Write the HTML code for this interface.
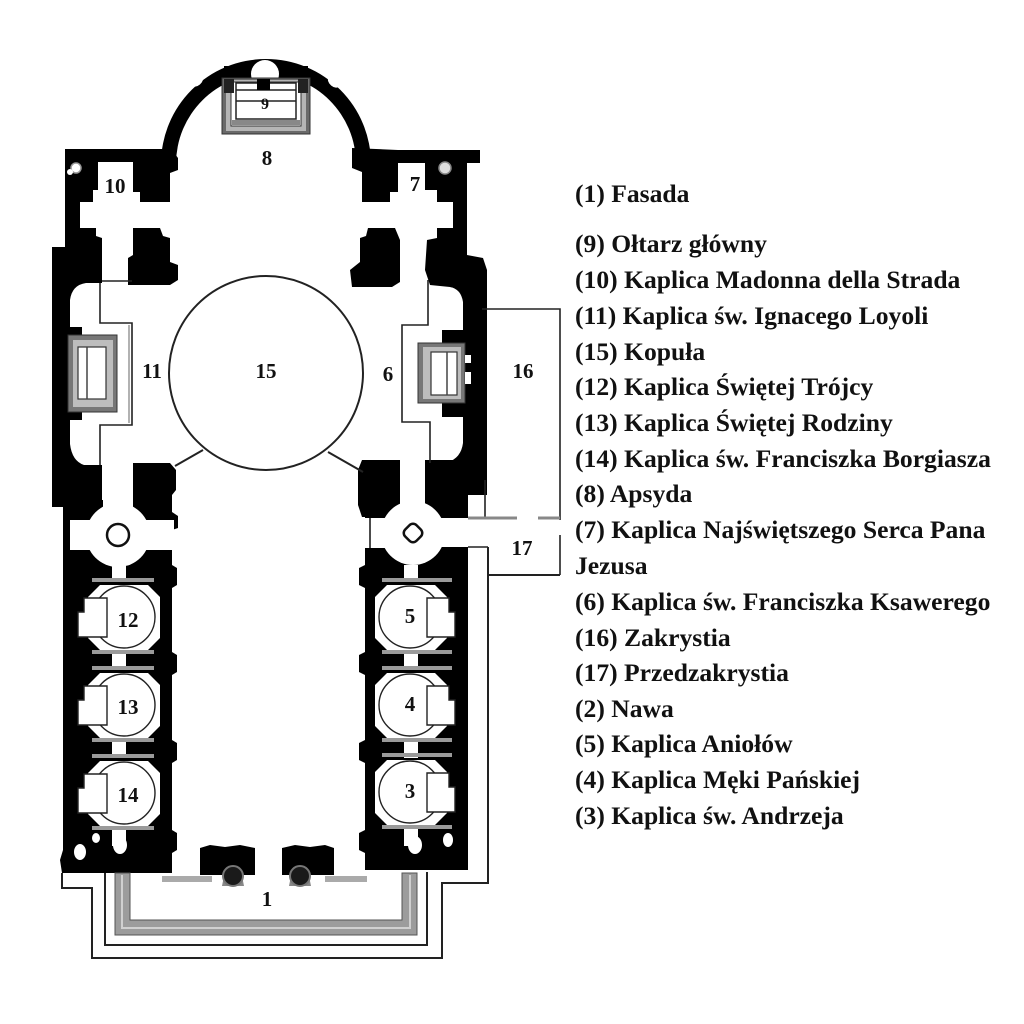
<!DOCTYPE html>
<html><head><meta charset="utf-8">
<style>
html,body{margin:0;padding:0;background:#fff;}
svg{display:block;}
.lg{font-family:"Liberation Serif","DejaVu Serif",serif;font-weight:bold;font-size:25.6px;fill:#111;}
.lb{font-family:"Liberation Serif","DejaVu Serif",serif;font-weight:bold;font-size:21px;fill:#111;text-anchor:middle;}
</style></head><body>
<svg width="1024" height="1024" viewBox="0 0 1024 1024" xmlns="http://www.w3.org/2000/svg">
<rect width="1024" height="1024" fill="#fff"/>

<!-- ===== BLACK WALL MASSES ===== -->
<g fill="#000">
  <!-- apse ring -->
  <path d="M161,164 A105,105 0 0 1 371,164 L356,164 A90,90 0 0 0 176,164 Z"/>
  <rect x="65" y="149" width="100" height="13"/>
  <rect x="368" y="150" width="112" height="13"/>
  <!-- top left block -->
  <polygon points="65,149 98,149 98,190 93,190 93,202 80,202 80,228 65,228"/>
  <!-- pier between 10 and apse -->
  <polygon points="133,150 172,150 178,158 178,170 170,173 170,202 140,202 140,192 133,192"/>
  <!-- pier between apse and 7 -->
  <polygon points="352,148 398,150 398,192 390,192 390,202 362,202 362,172 352,168"/>
  <!-- top right block -->
  <polygon points="425,150 480,150 480,163 467,163 467,228 453,228 453,202 437,202 437,190 425,190"/>

  <!-- y 228-288 -->
  <polygon points="65,228 96,228 96,236 102,238 102,283 70,283 70,300 52,300 52,247 65,247"/>
  <polygon points="133,228 160,228 163,236 170,238 170,262 178,265 178,280 170,285 128,285 128,258 133,255"/>
  <polygon points="368,228 395,228 400,240 400,282 392,287 352,287 350,270 360,262 360,238 366,236"/>
  <polygon points="437,228 467,228 467,255 483,258 487,270 487,290 463,292 460,288 430,285 425,270 427,240 437,238"/>

  <!-- left transept wall -->
  <rect x="52" y="247" width="18" height="260"/>
  <rect x="66" y="327" width="16" height="10"/>
  <rect x="66" y="410" width="16" height="10"/>
  <path d="M70,283 L86,283 Q72,285 70,300 Z"/>
  <path d="M70,465 L84,465 Q72,461 70,444 Z"/>
  <rect x="52" y="465" width="50" height="40"/>
  <!-- left pier to nave -->
  <polygon points="133,463 170,463 176,470 176,490 172,495 172,513 133,513"/>

  <!-- right transept wall -->
  <rect x="463" y="285" width="24" height="210"/>
  <rect x="442" y="330" width="45" height="20"/>
  <rect x="442" y="397" width="45" height="20"/>
  <path d="M463,287 L450,287 Q461,289 463,302 Z"/>
  <path d="M463,462 L448,462 Q461,458 463,443 Z"/>
  <polygon points="425,460 487,460 487,495 468,495 468,517 425,517"/>
  <polygon points="362,460 400,460 400,517 362,517 358,505 358,470"/>

  <!-- left nave column -->
  <polygon points="63,500 172,500 172,512 178,516 178,528 172,530 172,565 177,568 177,585 172,588 172,652 177,655 177,672 172,675 172,740 177,743 177,760 172,763 172,830 177,833 177,850 172,853 172,873 62,873 60,860 63,850"/>
  <!-- right nave column -->
  <polygon points="365,500 470,500 470,870 365,870 365,853 359,850 359,833 365,830 365,763 359,760 359,743 365,740 365,675 359,672 359,655 365,652 365,588 359,585 359,568 365,565"/>
  <!-- corridor lower block -->
  <rect x="438" y="547" width="30" height="20"/>

  <!-- entrance wall blocks -->
  <polygon points="200,848 210,845 225,847 240,845 255,848 255,875 200,875"/>
  <polygon points="282,848 295,845 310,847 325,845 334,848 334,875 282,875"/>
</g>

<!-- ===== WHITE INTERIOR SHAPES ===== -->
<g fill="#fff">
  <!-- left lobby -->
  <rect x="103" y="465" width="30" height="45"/>
  <circle cx="118" cy="535" r="32"/>
  <rect x="70" y="520" width="22" height="30"/>
  <rect x="144" y="520" width="30" height="30"/>
  <!-- right lobby -->
  <rect x="400" y="460" width="25" height="45"/>
  <circle cx="413" cy="533" r="32"/>
  <rect x="360" y="518" width="30" height="30"/>
  <rect x="436" y="518" width="52" height="29"/>
  <rect x="468" y="495" width="17" height="23"/>
  <rect x="468" y="547" width="18" height="323"/>
  <!-- connectors left -->
  <rect x="112" y="565" width="14" height="16"/>
  <rect x="112" y="650" width="14" height="20"/>
  <rect x="112" y="738" width="14" height="20"/>
  <rect x="112" y="826" width="14" height="20"/>
  <!-- connectors right -->
  <rect x="404" y="565" width="14" height="16"/>
  <rect x="404" y="650" width="14" height="20"/>
  <rect x="404" y="738" width="14" height="20"/>
  <rect x="404" y="826" width="14" height="20"/>
  <!-- damaged white blobs near bottom -->
  <ellipse cx="80" cy="852" rx="6" ry="8"/>
  <ellipse cx="120" cy="845" rx="7" ry="9"/>
  <ellipse cx="96" cy="838" rx="4" ry="5"/>
  <ellipse cx="415" cy="845" rx="7" ry="9"/>
  <ellipse cx="448" cy="840" rx="5" ry="7"/>
</g>

<!-- lobby inner circles -->
<circle cx="118" cy="535" r="11" fill="#fff" stroke="#111" stroke-width="2.5"/>
<rect x="405" y="525" width="16" height="16" rx="5" fill="#fff" stroke="#111" stroke-width="2.5" transform="rotate(45 413 533)"/>
<line x1="370" y1="518" x2="370" y2="548" stroke="#111" stroke-width="1.5"/>

<!-- ===== CHAPELS ===== -->
<g stroke="#222" stroke-width="1.3">
  <!-- left -->
  <g fill="#fff">
    <polygon points="88,585 160,585 160,650 88,650" stroke="none"/>
    <polygon points="88,673 160,673 160,738 88,738" stroke="none"/>
    <polygon points="88,761 160,761 160,826 88,826" stroke="none"/>
  </g>
</g>
<g fill="#000">
  <!-- re-black corners to leave octagon-ish shape -->
  <polygon points="88,585 100,585 88,597"/><polygon points="160,585 148,585 160,597"/>
  <polygon points="88,650 100,650 88,638"/><polygon points="160,650 148,650 160,638"/>
  <polygon points="88,673 100,673 88,685"/><polygon points="160,673 148,673 160,685"/>
  <polygon points="88,738 100,738 88,726"/><polygon points="160,738 148,738 160,726"/>
  <polygon points="88,761 100,761 88,773"/><polygon points="160,761 148,761 160,773"/>
  <polygon points="88,826 100,826 88,814"/><polygon points="160,826 148,826 160,814"/>
</g>
<g fill="#fff">
  <polygon points="375,585 447,585 447,650 375,650"/>
  <polygon points="375,673 447,673 447,738 375,738"/>
  <polygon points="375,760 447,760 447,825 375,825"/>
</g>
<g fill="#000">
  <polygon points="375,585 387,585 375,597"/><polygon points="447,585 435,585 447,597"/>
  <polygon points="375,650 387,650 375,638"/><polygon points="447,650 435,650 447,638"/>
  <polygon points="375,673 387,673 375,685"/><polygon points="447,673 435,673 447,685"/>
  <polygon points="375,738 387,738 375,726"/><polygon points="447,738 435,738 447,726"/>
  <polygon points="375,760 387,760 375,772"/><polygon points="447,760 435,760 447,772"/>
  <polygon points="375,825 387,825 375,813"/><polygon points="447,825 435,825 447,813"/>
</g>

<g fill="#fff" stroke="#222" stroke-width="1.4">
  <circle cx="124" cy="617" r="31"/>
  <circle cx="124" cy="705" r="31"/>
  <circle cx="124" cy="793" r="31"/>
  <circle cx="410" cy="617" r="31"/>
  <circle cx="410" cy="705" r="31"/>
  <circle cx="410" cy="792" r="31"/>
  <!-- niches left -->
  <polygon points="84,598 107,598 107,637 78,637 78,612 84,612"/>
  <polygon points="84,686 107,686 107,725 78,725 78,700 84,700"/>
  <polygon points="84,774 107,774 107,813 78,813 78,788 84,788"/>
  <!-- niches right -->
  <polygon points="427,598 449,598 449,612 455,612 455,637 427,637"/>
  <polygon points="427,686 449,686 449,700 455,700 455,725 427,725"/>
  <polygon points="427,773 449,773 449,787 455,787 455,812 427,812"/>
</g>
<g fill="#9a9a9a">
  <rect x="92" y="578" width="62" height="4"/>
  <rect x="92" y="650" width="62" height="4"/>
  <rect x="92" y="666" width="62" height="4"/>
  <rect x="92" y="738" width="62" height="4"/>
  <rect x="92" y="754" width="62" height="4"/>
  <rect x="92" y="826" width="62" height="4"/>
  <rect x="382" y="578" width="70" height="4"/>
  <rect x="382" y="650" width="70" height="4"/>
  <rect x="382" y="666" width="70" height="4"/>
  <rect x="382" y="738" width="70" height="4"/>
  <rect x="382" y="753" width="70" height="4"/>
  <rect x="382" y="825" width="70" height="4"/>
</g>

<!-- ===== APSE ALTAR (9) ===== -->
<rect x="224" y="66" width="84" height="14" fill="#000"/>
<circle cx="265" cy="74" r="14" fill="#fff"/>
<rect x="222" y="78" width="88" height="56" fill="#6a6a6a" stroke="#333" stroke-width="1"/>
<rect x="226" y="80" width="80" height="51" fill="#b5b5b5"/>
<rect x="231" y="82" width="70" height="44" fill="#fff" stroke="#333" stroke-width="1"/>
<rect x="224" y="79" width="10" height="14" fill="#222"/>
<rect x="298" y="79" width="10" height="14" fill="#222"/>
<rect x="236" y="83" width="60" height="36" fill="#fff" stroke="#222" stroke-width="1.5"/>
<line x1="236" y1="90" x2="296" y2="90" stroke="#222" stroke-width="1.5"/>
<line x1="236" y1="101" x2="296" y2="101" stroke="#222" stroke-width="1.5"/>
<rect x="257" y="79" width="13" height="11" fill="#000"/>
<rect x="232" y="120" width="68" height="5" fill="#888"/>
<!-- apse windows -->
<ellipse cx="197" cy="81" rx="7" ry="4.5" fill="#fff" transform="rotate(-40 197 81)"/>
<ellipse cx="334" cy="82" rx="7" ry="4.5" fill="#fff" transform="rotate(40 334 82)"/>
<!-- corner ornaments -->
<circle cx="76" cy="168" r="5" fill="#fff" stroke="#999" stroke-width="1.5"/>
<circle cx="70" cy="172" r="3" fill="#fff"/>
<circle cx="445" cy="168" r="6" fill="#ddd" stroke="#888" stroke-width="1.5"/>

<!-- ===== TRANSEPT ALTARS ===== -->
<rect x="68" y="335" width="49" height="77" fill="#777" stroke="#333" stroke-width="1"/>
<rect x="73" y="340" width="40" height="67" fill="#bdbdbd"/>
<rect x="78" y="347" width="28" height="52" fill="#fff" stroke="#333" stroke-width="1.2"/>
<line x1="87" y1="347" x2="87" y2="399" stroke="#444" stroke-width="1.5"/>
<rect x="418" y="343" width="47" height="60" fill="#777" stroke="#333" stroke-width="1"/>
<rect x="423" y="347" width="38" height="52" fill="#bdbdbd"/>
<rect x="431" y="352" width="26" height="43" fill="#fff" stroke="#333" stroke-width="1.2"/>
<line x1="447" y1="352" x2="447" y2="395" stroke="#444" stroke-width="1.5"/>
<rect x="465" y="355" width="6" height="8" fill="#fff"/>
<rect x="465" y="372" width="6" height="12" fill="#fff"/>

<!-- ===== THIN LINES ===== -->
<g fill="none" stroke="#222" stroke-width="1.6">
  <!-- dome -->
  <circle cx="266" cy="373" r="97" stroke-width="2"/>
  <line x1="203" y1="450" x2="175" y2="466" stroke-width="2"/>
  <line x1="328" y1="452" x2="363" y2="472" stroke-width="2"/>
  <!-- room 11 -->
  <polyline points="102,281 132,281"/>
  <polyline points="100,283 100,323 132,323 132,425 100,425 100,465"/>
  <line x1="129" y1="325" x2="129" y2="423" stroke="#999" stroke-width="1.5"/>
  <!-- room 6 -->
  <polyline points="428,280 428,325 402,325 402,422 430,422 430,463"/>
  <!-- sacristy 16 -->
  <polyline points="482,309 560,309 560,520"/>
  <line x1="485" y1="480" x2="485" y2="518"/>
  <line x1="560" y1="535" x2="560" y2="575"/>
  <line x1="468" y1="547" x2="488" y2="547"/>
  <!-- facade outline -->
  <polyline points="488,547 488,883 442,883 442,958 92,958 92,888 62,888 62,873" stroke-width="2"/>
  <polyline points="488,575 560,575" stroke-width="2"/>
  <polyline points="105,873 105,945 427,945 427,872" stroke-width="2"/>
</g>
<g stroke="#888" stroke-width="3">
  <line x1="468" y1="518" x2="517" y2="518"/>
  <line x1="538" y1="518" x2="560" y2="518"/>
</g>

<!-- portico gray U -->
<polygon points="115,873 130,873 130,920 402,920 402,873 417,873 417,935 115,935" fill="#9c9c9c" stroke="#555" stroke-width="1"/>
<polyline points="122,875 122,928 410,928 410,875" fill="none" stroke="#d0d0d0" stroke-width="2"/>
<rect x="162" y="876" width="50" height="6" fill="#aaa"/>
<rect x="325" y="876" width="42" height="6" fill="#aaa"/>
<!-- doors -->
<path d="M222,886 L244,886 L242,876 L224,876 Z" fill="#888"/>
<circle cx="233" cy="876" r="10" fill="#1a1a1a" stroke="#777" stroke-width="2"/>
<path d="M289,886 L311,886 L309,876 L291,876 Z" fill="#888"/>
<circle cx="300" cy="876" r="10" fill="#1a1a1a" stroke="#777" stroke-width="2"/>

<!-- ===== PLAN LABELS ===== -->
<text class="lb" x="267" y="165">8</text>
<text class="lb" x="265" y="109" style="font-size:16px">9</text>
<text class="lb" x="115" y="193">10</text>
<text class="lb" x="415" y="191">7</text>
<text class="lb" x="152" y="378">11</text>
<text class="lb" x="266" y="378">15</text>
<text class="lb" x="388" y="381">6</text>
<text class="lb" x="523" y="378">16</text>
<text class="lb" x="522" y="555">17</text>
<text class="lb" x="128" y="627">12</text>
<text class="lb" x="128" y="714">13</text>
<text class="lb" x="128" y="802">14</text>
<text class="lb" x="410" y="623">5</text>
<text class="lb" x="410" y="711">4</text>
<text class="lb" x="410" y="798">3</text>
<text class="lb" x="267" y="906">1</text>

<!-- ===== LEGEND ===== -->
<text class="lg" x="575" y="202">(1) Fasada</text>
<text class="lg" x="575" y="252">(9) Ołtarz główny</text>
<text class="lg" x="575" y="288">(10) Kaplica Madonna della Strada</text>
<text class="lg" x="575" y="324">(11) Kaplica św. Ignacego Loyoli</text>
<text class="lg" x="575" y="360">(15) Kopuła</text>
<text class="lg" x="575" y="395">(12) Kaplica Świętej Trójcy</text>
<text class="lg" x="575" y="431">(13) Kaplica Świętej Rodziny</text>
<text class="lg" x="575" y="467">(14) Kaplica św. Franciszka Borgiasza</text>
<text class="lg" x="575" y="502">(8) Apsyda</text>
<text class="lg" x="575" y="538">(7) Kaplica Najświętszego Serca Pana</text>
<text class="lg" x="575" y="574">Jezusa</text>
<text class="lg" x="575" y="610">(6) Kaplica św. Franciszka Ksawerego</text>
<text class="lg" x="575" y="646">(16) Zakrystia</text>
<text class="lg" x="575" y="681">(17) Przedzakrystia</text>
<text class="lg" x="575" y="717">(2) Nawa</text>
<text class="lg" x="575" y="752">(5) Kaplica Aniołów</text>
<text class="lg" x="575" y="788">(4) Kaplica Męki Pańskiej</text>
<text class="lg" x="575" y="824">(3) Kaplica św. Andrzeja</text>
</svg>
</body></html>
